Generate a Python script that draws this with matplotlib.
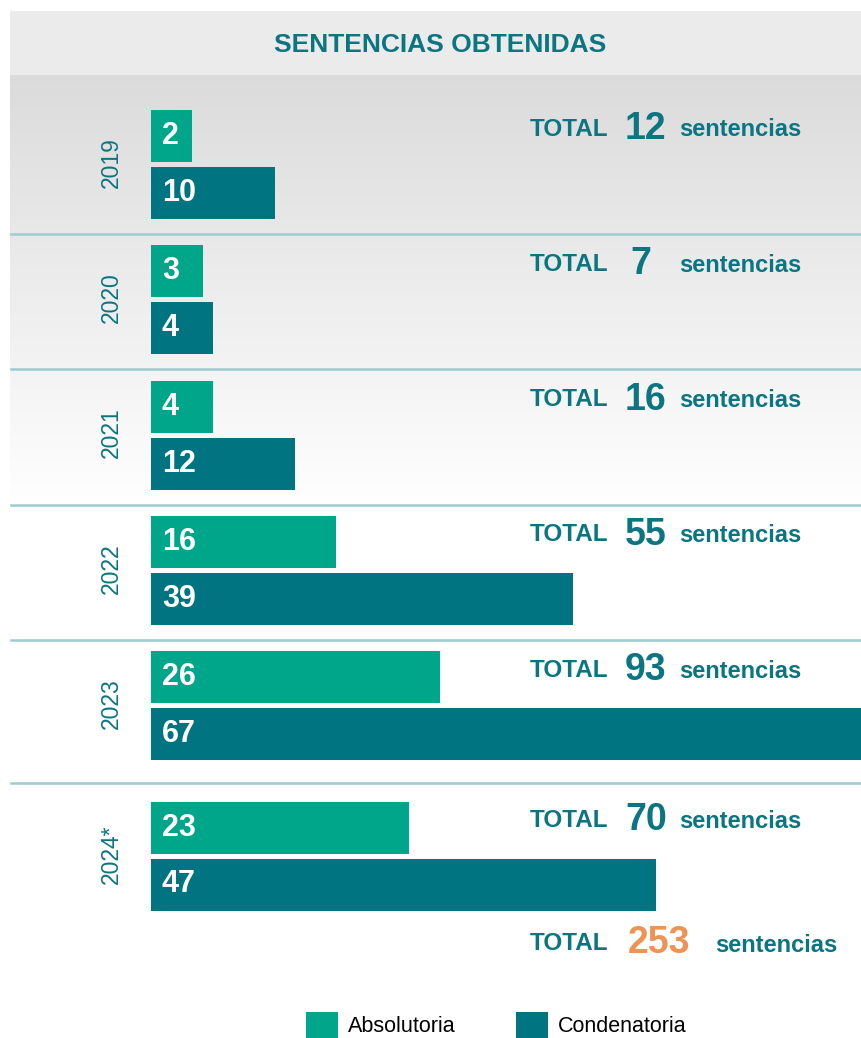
import matplotlib
matplotlib.use("Agg")
import matplotlib.pyplot as plt
from matplotlib.patches import Rectangle
import numpy as np

# data
years = ["2019", "2020", "2021", "2022", "2023", "2024*"]
absolutoria = [2, 3, 4, 16, 26, 23]
condenatoria = [10, 4, 12, 39, 67, 47]
totals = [12, 7, 16, 55, 93, 70]
grand_total = 253
title = "SENTENCIAS OBTENIDAS"
legend_labels = ["Absolutoria", "Condenatoria"]

GREEN = "#00a68a"
TEAL = "#007480"
TEXT = "#0b7581"
SEP = "#9ccbd0"
ORANGE = "#ef9354"
FONT = "Liberation Sans"

W, H = 862, 1038
fig = plt.figure(figsize=(W / 100, H / 100), dpi=100)

# background layer in pixel units
bg = fig.add_axes([0, 0, 1, 1])
bg.axis("off")

# title strip
bg.add_patch(Rectangle((10, 11), W - 10, 64, color="#ebebeb", lw=0))
bg.text(440, 45, title, color=TEXT, fontsize=19, fontweight="bold",
        family=FONT, ha="center", va="center")

# grey -> white gradient
grad = np.linspace(0.86, 1.0, 256).reshape(-1, 1)
bg.imshow(np.dstack([grad, grad, grad]), extent=[10, W, 510, 75], aspect="auto",
          interpolation="bilinear", zorder=0)
bg.set_xlim(0, W)
bg.set_ylim(H, 0)

# layout for the groups (pixel rows)
bar_h = 52
bar_gap = 5
group_pitch = 135.3
first_top = 110
extra_gap = [0, 0, 0, 0, 0, 15]
green_top = [first_top + i * group_pitch + extra_gap[i] for i in range(len(years))]
green_c = [t + bar_h / 2 for t in green_top]
teal_c = [t + bar_h + bar_gap + bar_h / 2 for t in green_top]

# bars axes: x in data units, y in pixel rows
ax = fig.add_axes([151 / W, 0, (W - 151) / W, 1])
base = -2.0
ax.set_xlim(base, 67)
ax.set_ylim(H, 0)
ax.axis("off")
ax.patch.set_alpha(0)

ax.barh(green_c, np.array(absolutoria) - base, left=base, height=bar_h, color=GREEN, lw=0)
ax.barh(teal_c, np.array(condenatoria) - base, left=base, height=bar_h, color=TEAL, lw=0)

for i in range(len(years)):
    for yc, v in ((green_c[i], absolutoria[i]), (teal_c[i], condenatoria[i])):
        ax.annotate(str(v), xy=(base, yc), xytext=(11, 0), textcoords="offset pixels",
                    color="white", fontsize=22, fontweight="bold", family=FONT,
                    ha="left", va="center")

# separators between groups
for i in range(len(years) - 1):
    ysep = (teal_c[i] + bar_h / 2 + green_top[i + 1]) / 2 + 2
    bg.plot([11, W], [ysep, ysep], color=SEP, lw=1.8, zorder=2)

# year labels and totals
for i, yr in enumerate(years):
    yc = (green_top[i] + teal_c[i] + bar_h / 2) / 2
    bg.text(111, yc - 2, yr, rotation=90, color=TEXT, fontsize=16.5,
            family=FONT, ha="center", va="center")
    ty = green_top[i] + 19
    bg.text(530, ty, "TOTAL", color=TEXT, fontsize=17.5, fontweight="bold",
            family=FONT, ha="left", va="center")
    bg.text(625 if totals[i] >= 10 else 630, ty, str(totals[i]), color=TEXT, fontsize=27,
            fontweight="bold", family=FONT, ha="left", va="center")
    bg.text(679, ty + 1, "sentencias", color=TEXT, fontsize=17, fontweight="bold",
            family=FONT, ha="left", va="center")

# grand total
bg.text(530, 944, "TOTAL", color=TEXT, fontsize=17.5, fontweight="bold",
        family=FONT, ha="left", va="center")
bg.text(628, 943, str(grand_total), color=ORANGE, fontsize=27, fontweight="bold",
        family=FONT, ha="left", va="center")
bg.text(715, 946, "sentencias", color=TEXT, fontsize=17, fontweight="bold",
        family=FONT, ha="left", va="center")

# legend
for x0, c, lab in ((306, GREEN, legend_labels[0]), (516, TEAL, legend_labels[1])):
    bg.add_patch(Rectangle((x0, 1012), 32, 30, color=c, lw=0))
    bg.text(x0 + 42, 1027, lab, color="black", fontsize=15.5, family=FONT,
            ha="left", va="center")

fig.savefig("out.png", dpi=100)
